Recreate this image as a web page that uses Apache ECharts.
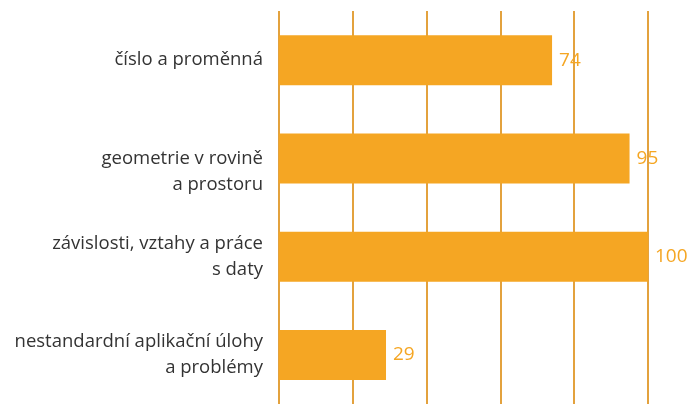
<!DOCTYPE html>
<html>
<head>
<meta charset="utf-8">
<script src="https://cdn.jsdelivr.net/npm/echarts@6/dist/echarts.min.js"></script>
<style>
  html, body { margin: 0; padding: 0; background: #fff; }
  #chart { width: 688px; height: 405px; }
</style>
</head>
<body>
<div id="chart"></div>
<script>
// categories top to bottom
const categories = [
  'číslo a proměnná',
  '\ngeometrie v rovině\na prostoru',
  'závislosti, vztahy a práce\ns daty',
  'nestandardní aplikační úlohy\na problémy'
];
const values = [74, 95, 100, 29];

const barColor = '#F5A623';
const gridColor = '#E3A23E';

const chart = echarts.init(document.getElementById('chart'));

const option = {
  animation: false,
  grid: {
    left: 279,
    right: 40,
    top: 11,
    bottom: 1
  },
  xAxis: {
    type: 'value',
    min: 0,
    max: 100,
    interval: 20,
    axisLabel: { show: false },
    axisTick: { show: false },
    axisLine: { show: false },
    splitLine: {
      show: true,
      lineStyle: { color: gridColor, width: 2 }
    }
  },
  yAxis: {
    type: 'category',
    data: categories,
    inverse: true,
    axisTick: { show: false },
    axisLine: { show: false },
    axisLabel: {
      margin: 16,
      fontFamily: 'Open Sans',
      fontSize: 18.5,
      color: '#333333',
      lineHeight: 26,
      align: 'right'
    }
  },
  series: [
    {
      type: 'bar',
      data: values,
      barWidth: 50,
      itemStyle: { color: barColor },
      label: {
        show: true,
        position: 'right',
        distance: 7,
        color: barColor,
        fontFamily: 'Open Sans',
        fontSize: 19
      }
    }
  ]
};

chart.setOption(option);
</script>
</body>
</html>
